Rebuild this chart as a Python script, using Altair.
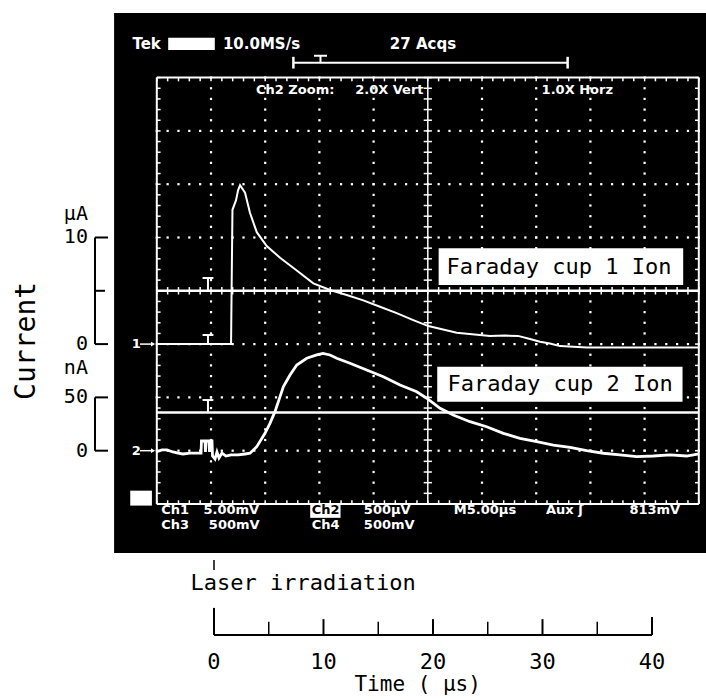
import altair as alt
import pandas as pd

# ---------------- data ----------------
# Faraday cup 1 (ion current, µA) ; time in µs
trace1_time_us = [-5.0, 1.85, 1.89, 1.98, 2.31, 2.49, 2.68, 3.14, 3.60, 4.22, 5.14, 6.37,
                  7.91, 9.44, 10.98, 12.52, 14.05, 15.59, 17.13, 18.66, 20.05, 22.67,
                  25.74, 27.12, 28.32, 29.43, 30.35, 31.27, 32.20, 34.66, 45.0]
trace1_current_uA = [0.0, 0.0, 4.1, 12.6, 13.5, 14.4, 14.9, 14.2, 12.3, 10.5, 9.2, 8.1,
                     6.9, 5.7, 5.07, 4.6, 4.1, 3.5, 2.9, 2.25, 1.69, 1.06,
                     0.75, 0.8, 0.77, 0.47, 0.22, 0.05, -0.19, -0.31, -0.31]

# Faraday cup 2 (ion current, nA)
trace2_time_us = [-5.0, -4.52, -4.06, -3.51, -3.04, -2.58, -1.94, -1.29, -0.92, -0.88, -0.55,
                  -0.51, -0.46, -0.18, -0.14, -0.09, 0.09, 0.14, 0.37, 0.55, 0.74, 1.01, 1.38,
                  1.85, 2.49, 3.14, 3.60, 4.22, 4.98, 5.44, 5.90, 6.37, 6.67, 7.29, 7.91,
                  8.83, 9.75, 10.33, 10.98, 11.6, 12.82, 14.36, 15.9, 17.44, 18.98, 19.9,
                  21.13, 22.35, 23.89, 25.43, 26.97, 28.5, 30.05, 31.58, 33.12, 34.66,
                  36.19, 37.73, 39.27, 40.8, 42.34, 43.88, 45.0]
trace2_current_nA = [-0.9, 0.7, 0.7, -1.2, -2.2, -3.1, -2.2, -2.2, -2.2, 9.1, 9.1,
                     -1.2, 9.1, 9.1, -1.2, 9.1, 9.1, -5.0, -7.8, -1.2, -6.8, -2.2, -5.0,
                     -4.0, -4.0, -3.1, -2.4, 3.75, 16.3, 25.7, 36.6, 50.7, 60.0, 71.0, 80.4,
                     86.7, 89.8, 91.2, 89.8, 86.7, 82.0, 75.7, 69.4, 61.6, 55.3, 49.2,
                     39.8, 33.5, 27.2, 22.5, 16.3, 11.6, 8.4, 5.3, 3.2, 0.0,
                     -2.4, -4.0, -5.6, -5.0, -4.0, -5.0, -3.1]

time_major_ticks = [0, 10, 20, 30, 40]
time_major_labels = ["0", "10", "20", "30", "40"]
time_minor_ticks = [5, 15, 25, 35]

ua_scale_values = [10, 0]
ua_scale_labels = ["10", "0"]
na_scale_values = [50, 0]
na_scale_labels = ["50", "0"]

label_cup1 = "Faraday cup 1 Ion"
label_cup2 = "Faraday cup 2 Ion"
label_laser = "Laser irradiation"
title_x = "Time ( μs)"
title_y = "Current"

# ---------------- screen frame ----------------
W, H = 706, 699
XS = alt.Scale(domain=[-19.465, 45.664], nice=False, zero=False)   # scope time, µs
XA = alt.Scale(domain=[-19.543, 44.932], nice=False, zero=False)   # drawn time axis, µs
YS = alt.Scale(domain=[-3.659, 9.456], nice=False, zero=False)     # scope divisions

T0, T1 = -5.0, 45.0          # graticule (5 µs / div)
D0, D1 = 0.0, 8.0
C1_ZERO, C1_PER_DIV = 3.0, 5.0    # µA per division
C2_ZERO, C2_PER_DIV = 1.0, 50.0   # nA per division
CURSOR1, CURSOR2 = 4.0, 1.717


def X(f="x", sc=XS):
    return alt.X(f"{f}:Q", scale=sc, axis=None)


def Y(f="y"):
    return alt.Y(f"{f}:Q", scale=YS, axis=None)


def rects_layer(rows):
    df = pd.DataFrame(rows, columns=["x", "x2", "y", "y2", "c"])
    return alt.Chart(df).mark_rect().encode(
        x=X("x"), x2="x2:Q", y=Y("y"), y2="y2:Q", color=alt.Color("c:N", scale=None))


def rules_layer(rows, sc=XS):
    df = pd.DataFrame(rows, columns=["x", "x2", "y", "y2", "c", "w"])
    return alt.Chart(df).mark_rule().encode(
        x=X("x", sc), x2="x2:Q", y=Y("y"), y2="y2:Q",
        color=alt.Color("c:N", scale=None),
        strokeWidth=alt.StrokeWidth("w:Q", scale=None))


def text_layer(rows, sc=XS, **mk):
    df = pd.DataFrame(rows, columns=["x", "y", "t", "c"])
    return alt.Chart(df).mark_text(**mk).encode(
        x=X("x", sc), y=Y("y"), text="t:N", color=alt.Color("c:N", scale=None))


# background of the oscilloscope photo
bg = rects_layer([[-8.94, 45.664, 9.21, -0.92, "black"]])

# graticule dots
dots = []
for k in range(1, 10):
    t = T0 + 5 * k
    if t == 20:
        continue
    for j in range(41):
        dots.append([t, j * 0.2])
for dd in [1, 2, 3, 5, 6, 7]:
    for j in range(51):
        dots.append([T0 + j, dd])
dots_layer = alt.Chart(pd.DataFrame(dots, columns=["x", "y"])).mark_square(
    size=5, color="white", opacity=1).encode(x=X("x"), y=Y("y"))

W_ = "white"
K_ = "black"
r = []
# border
r += [[T0, T1, D0, D0, W_, 2], [T0, T1, D1, D1, W_, 2],
      [T0, T0, D0, D1, W_, 2], [T1, T1, D0, D1, W_, 2]]
# border ticks and centre cross ticks
for j in range(51):
    t = T0 + j
    r.append([t, t, D1, D1 - 0.07, W_, 1.5])
    r.append([t, t, D0, D0 + 0.07, W_, 1.5])
    r.append([t, t, CURSOR1 - 0.07, CURSOR1 + 0.07, W_, 1.5])
for j in range(41):
    d = j * 0.2
    r.append([T0, T0 + 0.35, d, d, W_, 1.5])
    r.append([T1, T1 - 0.35, d, d, W_, 1.5])
    r.append([19.62, 20.38, d, d, W_, 1.5])
# centre vertical line
r.append([20, 20, D0, D1, W_, 1.5])
# cursor lines
r.append([T0, T1, CURSOR1, CURSOR1, W_, 2.5])
r.append([T0, T1, CURSOR2, CURSOR2, W_, 2.5])
# trigger "T" marks
for base, top in [(CURSOR1, 4.24), (C1_ZERO, 3.17), (CURSOR2, 1.95)]:
    r.append([-0.28, -0.28, base, top, W_, 2])
    r.append([-0.78, 0.22, top, top, W_, 2])
# record bracket at the top
BR_Y = 8.28
r.append([7.6, 32.9, BR_Y, BR_Y, W_, 2])
r.append([7.6, 7.6, BR_Y - 0.11, BR_Y + 0.11, W_, 2.5])
r.append([32.9, 32.9, BR_Y - 0.11, BR_Y + 0.11, W_, 2.5])
r.append([10.1, 10.1, BR_Y, BR_Y + 0.13, W_, 2])
r.append([9.5, 10.7, BR_Y + 0.13, BR_Y + 0.13, W_, 2])
# channel marker arrows
r.append([-6.55, -5.3, C1_ZERO, C1_ZERO, W_, 1.5])
r.append([-6.55, -5.3, C2_ZERO, C2_ZERO, W_, 1.5])

# outer current scale brackets (black)
bx, barm, bmid = -10.7, -9.5, -9.78
d10 = C1_ZERO + ua_scale_values[0] / C1_PER_DIV
d50 = C2_ZERO + na_scale_values[0] / C2_PER_DIV
r += [[bx, bx, C1_ZERO, d10, K_, 2], [bx, barm, d10, d10, K_, 2],
      [bx, barm, C1_ZERO, C1_ZERO, K_, 2], [bx, bmid, (C1_ZERO + d10) / 2, (C1_ZERO + d10) / 2, K_, 2],
      [bx, bx, C2_ZERO, d50, K_, 2], [bx, barm, d50, d50, K_, 2],
      [bx, barm, C2_ZERO, C2_ZERO, K_, 2]]
rules = rules_layer(r)

arrowheads = alt.Chart(pd.DataFrame({"x": [-5.35, -5.35], "y": [C1_ZERO, C2_ZERO]})).mark_point(
    shape="triangle-right", filled=True, size=22, color="white", opacity=1).encode(
    x=X("x"), y=Y("y"))

# bottom time axis (black), drawn on its own time scale
AX_Y = -2.458
a = [[time_major_ticks[0], time_major_ticks[-1], AX_Y, AX_Y, K_, 2]]
for t in time_major_ticks:
    top = -1.95 if t == 0 else (-2.12 if t == time_major_ticks[-1] else -2.16)
    a.append([t, t, AX_Y, top, K_, 2])
for t in time_minor_ticks:
    a.append([t, t, AX_Y, -2.21, K_, 1.5])
a.append([0, 0, -1.05, -1.24, K_, 1.5])          # laser irradiation marker
axis_rules = rules_layer(a, XA)

# traces
tr1 = alt.Chart(pd.DataFrame({"t": trace1_time_us, "i": trace1_current_uA})).transform_calculate(
    d=f"{C1_ZERO} + datum.i / {C1_PER_DIV}").mark_line(color="white", strokeWidth=2).encode(
    x=X("t"), y=Y("d"), order="t:Q")
tr2 = alt.Chart(pd.DataFrame({"t": trace2_time_us, "i": trace2_current_nA})).transform_calculate(
    d=f"{C2_ZERO} + datum.i / {C2_PER_DIV}").mark_line(color="white", strokeWidth=2.8).encode(
    x=X("t"), y=Y("d"), order="t:Q")

# white boxes
ROW1, ROW2 = -0.122, -0.403
boxes = rects_layer([
    [-3.95, 0.35, 8.75, 8.52, "white"],      # Tek status box
    [9.15, 11.95, -0.02, -0.26, "white"],    # Ch2 box
    [-7.45, -5.45, 0.25, -0.03, "white"],    # small marker box
    [21.0, 43.56, 4.80, 4.11, "white"],      # label box 1
    [20.87, 43.5, 2.576, 1.919, "white"],    # label box 2
])

SCOPE_FONT = "DejaVu Sans"
head_txt = text_layer([
    [-7.25, 8.63, "Tek", "white"],
    [1.1, 8.63, "10.0MS/s", "white"],
    [16.5, 8.63, "27 Acqs", "white"],
], align="left", baseline="middle", font=SCOPE_FONT, fontSize=15, fontWeight="bold")

row2_txt = text_layer([
    [4.15, 7.77, "Ch2 Zoom:", "white"],
    [13.3, 7.77, "2.0X Vert", "white"],
    [30.5, 7.77, "1.0X Horz", "white"],
    [-7.3, C1_ZERO, "1", "white"],
    [-7.3, C2_ZERO, "2", "white"],
], align="left", baseline="middle", font=SCOPE_FONT, fontSize=13, fontWeight="bold")

foot_txt = text_layer([
    [-4.6, ROW1, "Ch1", "white"],
    [-0.7, ROW1, "5.00mV", "white"],
    [9.3, ROW1, "Ch2", "black"],
    [14.1, ROW1, "500μV", "white"],
    [22.4, ROW1, "M5.00μs", "white"],
    [30.9, ROW1, "Aux ʃ", "white"],
    [38.6, ROW1, "813mV", "white"],
    [-4.6, ROW2, "Ch3", "white"],
    [-0.2, ROW2, "500mV", "white"],
    [9.3, ROW2, "Ch4", "white"],
    [14.1, ROW2, "500mV", "white"],
], align="left", baseline="middle", font=SCOPE_FONT, fontSize=13, fontWeight="bold")

MONO = "DejaVu Sans Mono"
label_txt = text_layer([
    [32.1, 4.45, label_cup1, "black"],
    [32.2, 2.26, label_cup2, "black"],
], align="center", baseline="middle", font=MONO, fontSize=22)

scale_txt = text_layer([
    [-11.35, 5.45, "μA", "black"],
    [-11.35, d10, ua_scale_labels[0], "black"],
    [-11.35, C1_ZERO + ua_scale_values[1] / C1_PER_DIV, ua_scale_labels[1], "black"],
    [-11.35, 2.55, "nA", "black"],
    [-11.35, d50, na_scale_labels[0], "black"],
    [-11.35, C2_ZERO + na_scale_values[1] / C2_PER_DIV, na_scale_labels[1], "black"],
], align="right", baseline="middle", font=MONO, fontSize=20)

ytitle = text_layer([[-16.97, 3.06, title_y, "black"]], align="center", baseline="middle",
                    font=MONO, fontSize=28, angle=270)

axis_txt = text_layer(
    [[t, -2.96, lab, "black"] for t, lab in zip(time_major_ticks, time_major_labels)],
    sc=XA, align="center", baseline="middle", font=MONO, fontSize=22)

xtitle = text_layer([[18.6, -3.40, title_x, "black"]], sc=XA, align="center",
                    baseline="middle", font=MONO, fontSize=21)

laser_txt = text_layer([[-2.14, -1.49, label_laser, "black"]], sc=XA, align="left",
                       baseline="middle", font=MONO, fontSize=22)

chart = alt.layer(
    bg, dots_layer, rules, arrowheads, axis_rules, tr1, tr2, boxes, head_txt, row2_txt,
    foot_txt, label_txt, scale_txt, ytitle, axis_txt, xtitle, laser_txt
).resolve_scale(x="independent").properties(
    width=W, height=H, padding=0, autosize=alt.AutoSizeParams(type="none"),
    background="white"
).configure_view(stroke=None)

chart.save("out.html", embed_options={"renderer": "svg", "actions": False})
